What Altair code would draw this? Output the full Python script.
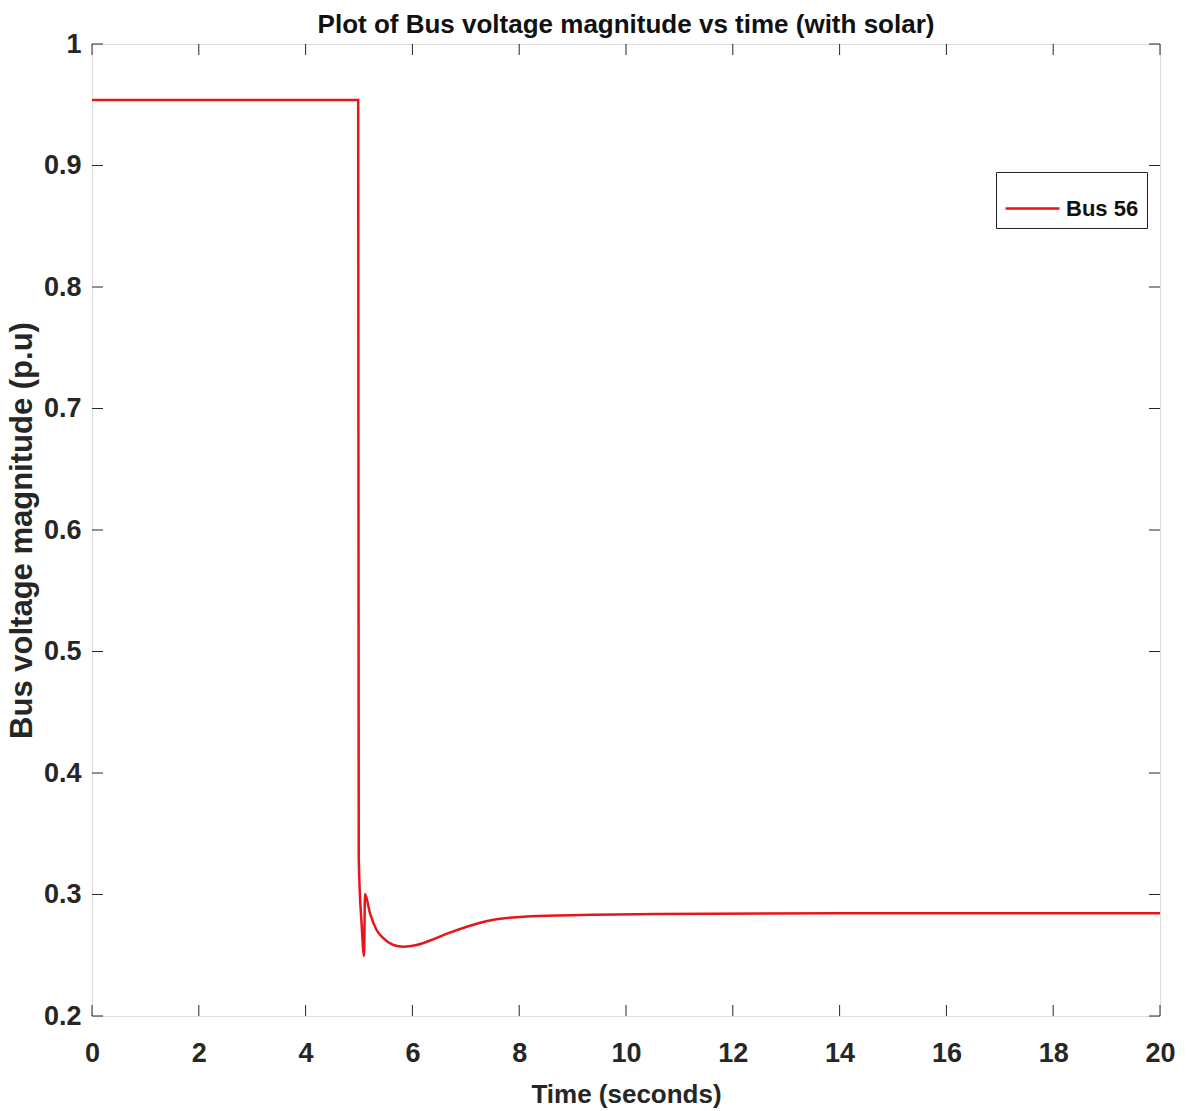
import altair as alt
import pandas as pd

# ---- data ----
time_s = [0, 4.985, 4.995, 5.05, 5.095, 5.112, 5.206, 5.33, 5.455, 5.642, 5.83, 6.08,
          6.39, 6.70, 7.02, 7.27, 7.52, 7.85, 8.14, 8.76, 9.39, 10.6, 14, 20]
voltage = [0.954, 0.954, 0.33, 0.275, 0.2494, 0.3004, 0.2845, 0.2708, 0.264, 0.2584, 0.257,
           0.2584, 0.2631, 0.2686, 0.2735, 0.2768, 0.2793, 0.2810, 0.2818, 0.2828, 0.2834, 0.284,
           0.2845, 0.2845]
series_name = ["Bus 56"] * len(time_s)

x_ticks = [0, 2, 4, 6, 8, 10, 12, 14, 16, 18, 20]
y_ticks = [0.2, 0.3, 0.4, 0.5, 0.6, 0.7, 0.8, 0.9, 1.0]

W, H = 1068, 972
FONT = "Liberation Sans, Arial, sans-serif"

df = pd.DataFrame({"t": time_s, "v": voltage, "series": series_name})
xt = pd.DataFrame({"x": x_ticks})
yt = pd.DataFrame({"y": y_ticks})

xscale = alt.Scale(domain=[0, 20], nice=False, zero=False)
yscale = alt.Scale(domain=[0.2, 1.0], nice=False, zero=False)

line = alt.Chart(df).mark_line(strokeWidth=2.5, interpolate="monotone").encode(
    x=alt.X("t:Q", scale=xscale,
            axis=alt.Axis(values=x_ticks, format="d", ticks=False, domain=False, grid=False,
                          labelFlush=False,
                          labelFont=FONT, labelFontSize=27, labelFontWeight="bold",
                          labelColor="#262626", labelPadding=24,
                          title="Time (seconds)", titleFont=FONT, titleFontSize=26,
                          titleFontWeight="bold", titleColor="#262626",
                          titleX=W / 2, titleY=86, titleBaseline="alphabetic")),
    y=alt.Y("v:Q", scale=yscale,
            axis=alt.Axis(values=y_ticks, format=".1~f", ticks=False, domain=False, grid=False,
                          labelFlush=False,
                          labelFont=FONT, labelFontSize=27, labelFontWeight="bold",
                          labelColor="#262626", labelPadding=11,
                          title="Bus voltage magnitude (p.u)", titleFont=FONT,
                          titleFontSize=31, titleFontWeight="bold", titleColor="#262626",
                          titleX=-61, titleY=H / 2, titleAngle=-90,
                          titleBaseline="alphabetic", titleAlign="center")),
    color=alt.Color("series:N",
                    scale=alt.Scale(domain=["Bus 56"], range=["#e8141c"]),
                    legend=alt.Legend(title=None, orient="none", legendX=904, legendY=128,
                                      symbolType="stroke", symbolSize=2916, symbolStrokeWidth=2.5,
                                      labelFont=FONT, labelFontSize=22, labelFontWeight="bold",
                                      labelColor="#111111", labelOffset=5,
                                      padding=8, strokeColor="#222222", fillColor="white")),
)

tick_style = dict(color="#262626", strokeWidth=1)
xb = alt.Chart(xt).mark_rule(**tick_style).encode(
    x=alt.X("x:Q", scale=xscale), y=alt.value(H), y2=alt.value(H - 11))
xtp = alt.Chart(xt).mark_rule(**tick_style).encode(
    x=alt.X("x:Q", scale=xscale), y=alt.value(0), y2=alt.value(11))
yl = alt.Chart(yt).mark_rule(**tick_style).encode(
    y=alt.Y("y:Q", scale=yscale), x=alt.value(0), x2=alt.value(11))
yr = alt.Chart(yt).mark_rule(**tick_style).encode(
    y=alt.Y("y:Q", scale=yscale), x=alt.value(W - 11), x2=alt.value(W))

chart = alt.layer(xb, xtp, yl, yr, line).properties(
    width=W, height=H,
    title=alt.TitleParams("Plot of Bus voltage magnitude vs time (with solar)",
                          font=FONT, fontSize=26, fontWeight="bold", color="#111111",
                          anchor="middle", frame="group", offset=6, dy=14),
    autosize=alt.AutoSizeParams(type="none"),
    padding={"left": 92, "top": 44, "right": 26, "bottom": 95},
).configure_view(stroke="#262626", strokeWidth=1.2).configure(background="white")

chart.save("out.html", embed_options={"renderer": "svg", "actions": False})
